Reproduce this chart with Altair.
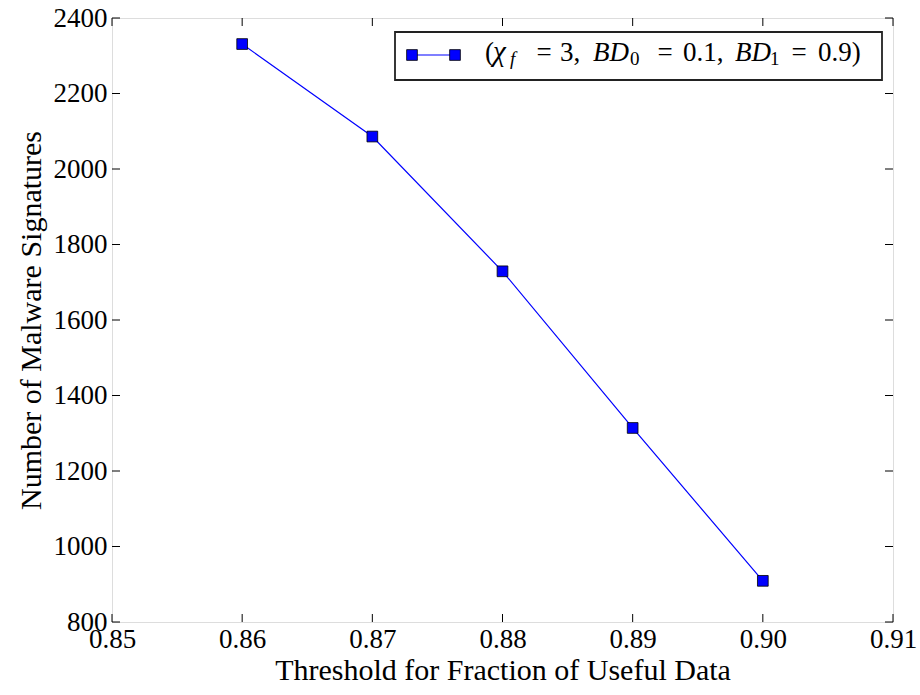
import altair as alt
import pandas as pd

# Measured series
thresholds = [0.86, 0.87, 0.88, 0.89, 0.90]
signatures = [2331, 2086, 1729, 1314, 909]

x_ticks = [0.85, 0.86, 0.87, 0.88, 0.89, 0.90, 0.91]
y_ticks = [800, 1000, 1200, 1400, 1600, 1800, 2000, 2200, 2400]

FONT = "Liberation Serif"
W, H = 781, 604
BLUE = "#0000ff"

df = pd.DataFrame({"t": thresholds, "n": signatures})
xt = pd.DataFrame({"v": x_ticks})
yt = pd.DataFrame({"v": y_ticks})
one = pd.DataFrame({"a": [0]})

xscale = alt.Scale(domain=[0.85, 0.91], nice=False, zero=False)
yscale = alt.Scale(domain=[800, 2400], nice=False, zero=False)

x_axis = alt.Axis(
    values=x_ticks, format=".2f", ticks=False, domain=False, grid=False,
    labelFont=FONT, labelFontSize=27, labelColor="black", labelPadding=4,
    labelFlush=False, labelOverlap=False, labelBound=False,
    title="Threshold for Fraction of Useful Data", titleFont=FONT,
    titleFontSize=30, titleFontWeight="normal", titleColor="black", titlePadding=3,
)
y_axis = alt.Axis(
    values=y_ticks, format="d", ticks=False, domain=False, grid=False,
    labelFont=FONT, labelFontSize=27, labelColor="black", labelPadding=5,
    labelFlush=False, labelOverlap=False, labelBound=False,
    title="Number of Malware Signatures", titleFont=FONT,
    titleFontSize=30, titleFontWeight="normal", titleColor="black", titlePadding=7,
)

base = alt.Chart(df)
line = base.mark_line(color=BLUE, strokeWidth=1.2).encode(
    x=alt.X("t:Q", scale=xscale, axis=x_axis),
    y=alt.Y("n:Q", scale=yscale, axis=y_axis),
)
points = base.mark_point(
    shape="square", filled=True, fill=BLUE, stroke="black", strokeWidth=0.8,
    size=115, opacity=1,
).encode(x=alt.X("t:Q", scale=xscale, axis=x_axis),
         y=alt.Y("n:Q", scale=yscale, axis=y_axis))

# Inward ticks on all four sides
tick_len = 8
xb = alt.Chart(xt).mark_rule(color="black", strokeWidth=1).encode(
    x=alt.X("v:Q", scale=xscale, axis=x_axis), y=alt.value(H), y2=alt.value(H - tick_len))
xtop = alt.Chart(xt).mark_rule(color="black", strokeWidth=1).encode(
    x=alt.X("v:Q", scale=xscale, axis=x_axis), y=alt.value(0), y2=alt.value(tick_len))
yl = alt.Chart(yt).mark_rule(color="black", strokeWidth=1).encode(
    y=alt.Y("v:Q", scale=yscale, axis=y_axis), x=alt.value(0), x2=alt.value(tick_len))
yr = alt.Chart(yt).mark_rule(color="black", strokeWidth=1).encode(
    y=alt.Y("v:Q", scale=yscale, axis=y_axis), x=alt.value(W), x2=alt.value(W - tick_len))

# Legend box with line-and-square symbol
leg_box = alt.Chart(one).mark_rect(
    fill="white", stroke="#222222", strokeWidth=1.8).encode(
    x=alt.value(283), x2=alt.value(770), y=alt.value(14), y2=alt.value(62))
leg_line = alt.Chart(one).mark_rule(color=BLUE, strokeWidth=1.2).encode(
    x=alt.value(300), x2=alt.value(343), y=alt.value(37))
leg_sym = alt.Chart(pd.DataFrame({"px": [300, 343]})).mark_point(
    shape="square", filled=True, fill=BLUE, stroke="black", strokeWidth=0.8,
    size=115, opacity=1).encode(
    x=alt.X("px:Q", scale=None), y=alt.value(37))

# Legend label, set piecewise so symbols are italic and indices are subscripts
label_parts = [
    ("(", 373, 43, 27, "normal", "left"),
    ("\u03c7", 381, 43, 29, "italic", "left"),
    ("f", 398, 47, 19, "italic", "left"),
    ("=", 432, 43, 27, "normal", "center"),
    ("3,", 448, 43, 27, "normal", "left"),
    ("BD", 481, 43, 27, "italic", "left"),
    ("0", 518, 47, 19, "normal", "left"),
    ("=", 553, 43, 27, "normal", "center"),
    ("0.1,", 571, 43, 27, "normal", "left"),
    ("BD", 623, 43, 27, "italic", "left"),
    ("1", 658, 47, 19, "normal", "left"),
    ("=", 687, 43, 27, "normal", "center"),
    ("0.9)", 706, 43, 27, "normal", "left"),
]
lp = pd.DataFrame(label_parts, columns=["s", "px", "py", "fs", "st", "al"])

def label_layer(style, align):
    sub = lp[(lp["st"] == style) & (lp["al"] == align)]
    return alt.Chart(sub).mark_text(
        font=FONT, fontStyle=style, align=align, baseline="alphabetic",
        color="black").encode(
        x=alt.X("px:Q", scale=None), y=alt.Y("py:Q", scale=None),
        text="s:N", size=alt.Size("fs:Q", scale=None, legend=None))

chart = alt.layer(
    line, points, xb, xtop, yl, yr,
    leg_box, leg_line, leg_sym,
    label_layer("normal", "left"), label_layer("normal", "center"),
    label_layer("italic", "left"),
).properties(
    width=W, height=H,
    autosize=alt.AutoSizeParams(type="none"),
    padding={"left": 112, "top": 18, "right": 27, "bottom": 73},
).configure_axis(
    labelFont=FONT, titleFont=FONT, labelColor="black", titleColor="black"
).configure_view(
    stroke="black", strokeWidth=1.5
).configure(background="white", font=FONT)

chart.save("out.html", embed_options={"renderer": "svg", "actions": False})
